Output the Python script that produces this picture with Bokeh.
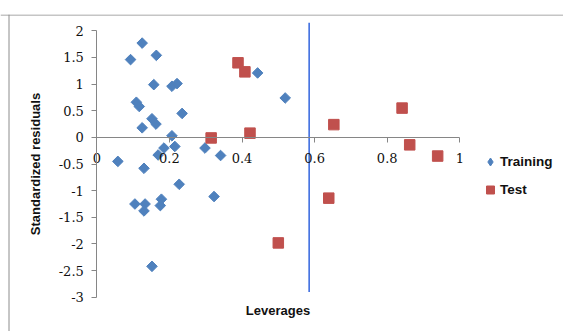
from bokeh.plotting import figure
from bokeh.models import Range1d, FixedTicker, Span, Legend, LegendItem
from bokeh.embed import file_html
from bokeh.resources import INLINE

# ---- data ----
train_lev = [0.125, 0.093, 0.164, 0.157, 0.207, 0.221, 0.109, 0.117, 0.235, 0.152, 0.163, 0.125, 0.207,
             0.185, 0.215, 0.169, 0.058, 0.130, 0.227, 0.105, 0.133, 0.130, 0.178, 0.175, 0.152,
             0.443, 0.519, 0.298, 0.341, 0.323]
train_res = [1.77, 1.46, 1.54, 0.99, 0.96, 1.01, 0.66, 0.58, 0.45, 0.35, 0.25, 0.18, 0.03,
             -0.20, -0.17, -0.33, -0.45, -0.58, -0.88, -1.25, -1.25, -1.38, -1.16, -1.28, -2.42,
             1.21, 0.74, -0.20, -0.34, -1.11]
test_lev = [0.389, 0.408, 0.653, 0.422, 0.315, 0.639, 0.500, 0.841, 0.862, 0.939]
test_res = [1.40, 1.23, 0.24, 0.08, -0.01, -1.14, -1.98, 0.55, -0.14, -0.35]

hstar_x = [0.585, 0.585]
hstar_y = [2.15, -2.90]

x_ticks = [0, 0.2, 0.4, 0.6, 0.8, 1]
x_tick_labels = ["0", "0.2", "0.4", "0.6", "0.8", "1"]
y_ticks = [-3, -2.5, -2, -1.5, -1, -0.5, 0, 0.5, 1, 1.5, 2]
y_tick_labels = ["-3", "-2.5", "-2", "-1.5", "-1", "-0.5", "0", "0.5", "1", "1.5", "2"]

# ---- layout constants ----
W, H = 563, 331
TOP = 14
X0_PX, XSCALE = 96.3, 363.0      # x=0 position within frame, px per unit
Y0_PX, YSCALE = 122.9, 53.28     # y=0 position from frame top, px per unit
FRAME_H = H - TOP
x_start = -X0_PX / XSCALE
x_end = x_start + W / XSCALE
y_end = Y0_PX / YSCALE
y_start = y_end - FRAME_H / YSCALE

p = figure(width=W, height=H, output_backend="svg", toolbar_location=None,
           x_range=Range1d(x_start, x_end), y_range=Range1d(y_start, y_end),
           min_border=0, min_border_top=TOP, min_border_left=0, min_border_right=0,
           min_border_bottom=0)
p.grid.visible = False
p.outline_line_color = None
p.background_fill_color = "white"
p.border_fill_color = "white"

# chart-area border (top and left visible within window)
p.add_layout(Span(location=y_end - 0.5 / YSCALE, dimension="width",
                  line_color="#8c8c8c", line_width=1))
p.add_layout(Span(location=x_start + 8.5 / XSCALE, dimension="height",
                  line_color="#8c8c8c", line_width=1))

axis_col = "#868686"
tick_font = "DejaVu Serif"

xa = p.xaxis[0]
xa.fixed_location = 0
xa.bounds = (0, 1)
xa.ticker = FixedTicker(ticks=x_ticks)
xa.major_label_overrides = dict(zip(x_ticks, x_tick_labels))
xa.minor_tick_line_color = None
xa.major_tick_in = 0
xa.major_tick_out = 5
xa.axis_line_color = axis_col
xa.major_tick_line_color = axis_col
xa.major_label_text_font = tick_font
xa.major_label_text_font_size = "13px"
xa.major_label_text_color = "#111111"
xa.major_label_standoff = 11
xa.axis_label = "Leverages"
xa.axis_label_text_font = "Liberation Sans"
xa.axis_label_text_font_style = "bold"
xa.axis_label_text_font_size = "13px"
xa.axis_label_text_color = "#111111"
xa.axis_label_standoff = 136

ya = p.yaxis[0]
ya.fixed_location = 0
ya.bounds = (-3, 2)
ya.ticker = FixedTicker(ticks=y_ticks)
ya.major_label_overrides = dict(zip(y_ticks, y_tick_labels))
ya.minor_tick_line_color = None
ya.major_tick_in = 0
ya.major_tick_out = 5
ya.axis_line_color = axis_col
ya.major_tick_line_color = axis_col
ya.major_label_text_font = tick_font
ya.major_label_text_font_size = "13px"
ya.major_label_text_color = "#111111"
ya.major_label_standoff = 8
ya.axis_label = "Standardized residuals"
ya.axis_label_text_font = "Liberation Sans"
ya.axis_label_text_font_style = "bold"
ya.axis_label_text_font_size = "13px"
ya.axis_label_text_color = "#111111"
ya.axis_label_standoff = 12

blue = "#4F81BD"
red = "#C0504D"

p.scatter(train_lev, train_res, marker="square", size=7.5, angle=0.785398,
          fill_color=blue, line_color=blue)
p.scatter(test_lev, test_res, marker="square", size=10.5,
          fill_color=red, line_color=red)
p.line(hstar_x, hstar_y, line_color="#3F6FE0", line_width=1.6)

# legend-only renderers (diamond / square shapes), no visible points
nan = float("nan")
leg_train = p.scatter([nan], [nan], marker="diamond", size=10, fill_color=blue, line_color=blue)
leg_test = p.scatter([nan], [nan], marker="square", size=10, fill_color=red, line_color=red)

legend = Legend(items=[LegendItem(label="Training", renderers=[leg_train]),
                       LegendItem(label="Test", renderers=[leg_test])],
                location=(480, 129), orientation="vertical",
                glyph_width=20, glyph_height=25, label_height=25, label_standoff=0,
                spacing=3, padding=0, margin=0,
                border_line_color=None, background_fill_alpha=0,
                label_text_font="Liberation Sans", label_text_font_style="bold",
                label_text_font_size="13.5px", label_text_color="#111111")
p.add_layout(legend)

open("out.html", "w").write(file_html(p, INLINE))
